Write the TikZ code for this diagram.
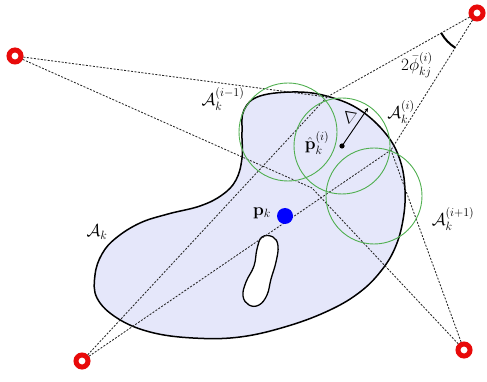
\documentclass[tikz,border=0pt]{standalone}
\usepackage{amsmath}
\usetikzlibrary{arrows.meta,calc}
\definecolor{regionfill}{RGB}{229,231,250}
\definecolor{circgreen}{RGB}{80,175,80}
\definecolor{anchred}{RGB}{232,10,10}
\tikzset{
  shapeline/.style={draw=black, line width=1.5pt},
  bearing/.style={draw=black!85, line width=0.85pt, dash pattern=on 2pt off 1.5pt},
  subcirc/.style={draw=circgreen, line width=0.9pt},
  anchorring/.style={circle, draw=anchred, line width=5pt, fill=white, minimum size=12pt, inner sep=0pt},
  lbl/.style={inner sep=1pt, font=\LARGE},
}
\begin{document}
\begin{tikzpicture}[x=1pt,y=-1pt]
\useasboundingbox (0,0) rectangle (487,382);
% region A_k
\draw[shapeline, fill=regionfill] plot[smooth cycle, tension=0.65] coordinates {
 (244,110) (260,96) (298,92) (330,97) (360,110) (386,134) (400,160) (405,190)
 (403,220) (395,248) (381,271) (360,292) (330,310) (288,326) (240,337) (193,338)
 (150,332) (117,318) (97,298) (95,275) (102,254) (116,238) (140,223) (168,214)
 (200,206) (222,195) (236,180) (242,158) (242,132)};
% hole
\draw[line width=1.3pt, fill=white] plot[smooth cycle, tension=0.7] coordinates {
 (262,237) (273,237) (278,246) (276,262) (271,279) (267,295) (259,305) (249,305)
 (243,296) (246,282) (254,266) (257,249)};
% points
\coordinate (P1) at (327,97);
\coordinate (P2) at (391,150);
\coordinate (P3) at (312,188);
\coordinate (C) at (342,146);
\coordinate (Dtip) at (368,108);
% anchors
\node[anchorring] (L)  at (15,56) {};
\node[anchorring] (TR) at (477,13) {};
\node[anchorring] (BL) at (82,361) {};
\node[anchorring] (BR) at (464,350) {};
% bearing lines
\draw[bearing] (L) -- (P1);
\draw[bearing] (L) -- (P3);
\draw[bearing] (TR) -- (P1);
\draw[bearing] (TR) -- (P2);
\draw[bearing] (BL) -- (P1);
\draw[bearing] (BL) -- (P2);
\draw[bearing] (BR) -- (P2);
\draw[bearing] (BR) -- (P3);
% circles
\draw[subcirc] (288,132) circle[radius=49];
\draw[subcirc] (C) circle[radius=48];
\draw[subcirc] (374,196) circle[radius=48];
% angle arc
\draw[line width=2pt] (TR) ++(150.75:41) arc[start angle=150.75, end angle=122.1, radius=41];
% centre and radius
\fill (C) circle[radius=2.6];
\draw[line width=0.9pt, -{Stealth[length=4pt,width=4pt]}] (C) -- (Dtip);
\node[lbl, rotate=170] (delta) at (350,118) {$\Delta$};
% blue point
\fill[blue] (285,216) circle[radius=8];
% labels
\node[lbl] (lAk) at (97,232) {$\mathcal{A}_k$};
\node[lbl] (lpk) at (262,213) {$\mathbf{p}_k$};
\node[lbl] (lAm) at (223,99) {$\mathcal{A}_k^{(i-1)}$};
\node[lbl] (lAi) at (401,112) {$\mathcal{A}_k^{(i)}$};
\node[lbl] (lAp) at (453,219) {$\mathcal{A}_k^{(i+1)}$};
\node[lbl] (lPh) at (317,143) {$\hat{\mathbf{p}}_k^{(i)}$};
\node[lbl] (lph) at (417,65) {$2\bar{\phi}_{kj}^{(i)}$};
\end{tikzpicture}
\end{document}
